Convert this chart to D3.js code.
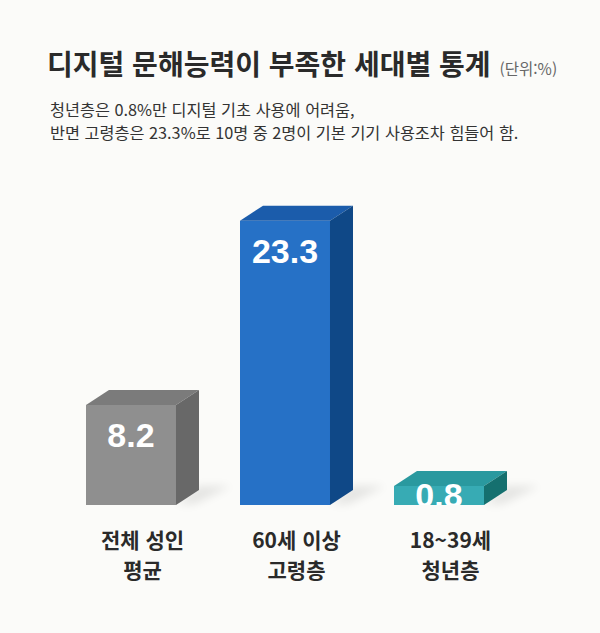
<!DOCTYPE html>
<html lang="ko">
	<head>
		<meta charset="utf-8">
		<title>디지털 문해능력이 부족한 세대별 통계</title>
		<script type="text/javascript" src="https://cdn.jsdelivr.net/npm/d3@7"></script>
		<style type="text/css">
			body { margin: 0; background: #fbfbf9; }
			svg { display: block; }
		</style>
	</head>
	<body>
		<script type="text/javascript">

			//Data
			var categories = ["전체 성인 평균", "60세 이상 고령층", "18~39세 청년층"];
			var labelLines = [["전체 성인", "평균"], ["60세 이상", "고령층"], ["18~39세", "청년층"]];
			var values = [8.2, 23.3, 0.8];
			var valueLabels = ["8.2", "23.3", "0.8"];

			var title = "디지털 문해능력이 부족한 세대별 통계";
			var unit = "(단위:%)";
			var subtitle = ["청년층은 0.8%만 디지털 기초 사용에 어려움,",
							"반면 고령층은 23.3%로 10명 중 2명이 기본 기기 사용조차 힘들어 함."];

			//Width and height
			var w = 600;
			var h = 633;
			var base = 505;
			var dx = 23, dy = 15;		//3D depth offset
			var minFront = 19;

			var frontColor = d3.scaleOrdinal().domain(categories).range(["#8f8f8f", "#2671c6", "#37abb4"]);
			var topColor   = d3.scaleOrdinal().domain(categories).range(["#7b7b7b", "#1b5cab", "#2a999f"]);
			var sideColor  = d3.scaleOrdinal().domain(categories).range(["#686868", "#0f4887", "#15706f"]);

			var xScale = d3.scaleBand()
							.domain(categories)
							.range([22, 548])
							.padding(0.4156);

			var yScale = d3.scaleLinear()
							.domain([0, 25])
							.range([base, 200]);

			var bars = categories.map(function(c, i) {
				var x0 = xScale(c);
				var top = Math.min(yScale(values[i]), base - minFront);
				return { cat: c, value: values[i], label: valueLabels[i], lines: labelLines[i],
						 x0: x0, x1: x0 + xScale.bandwidth(), top: top };
			});

			//Create SVG element
			var svg = d3.select("body")
						.append("svg")
						.attr("width", w)
						.attr("height", h);

			svg.append("rect")
			   .attr("width", w)
			   .attr("height", h)
			   .attr("fill", "#fbfbf9");

			var defs = svg.append("defs");
			defs.append("filter")
				.attr("id", "blur")
				.attr("x", "-50%").attr("y", "-50%")
				.attr("width", "200%").attr("height", "200%")
				.append("feGaussianBlur")
				.attr("stdDeviation", 5);
			defs.append("clipPath")
				.attr("id", "belowBase")
				.append("rect")
				.attr("x", 0).attr("y", 0)
				.attr("width", w).attr("height", base);

			//Title
			var t = svg.append("text")
					   .attr("x", 47)
					   .attr("y", 75)
					   .attr("font-family", "'Noto Sans CJK KR', sans-serif")
					   .attr("font-size", "28px")
					   .attr("font-weight", "bold")
					   .attr("fill", "#2a2a2a")
					   .text(title);
			t.append("tspan")
			 .attr("dx", 9)
			 .attr("font-size", "15.5px")
			 .attr("font-weight", "normal")
			 .attr("fill", "#666")
			 .text(unit);

			svg.selectAll("text.sub")
			   .data(subtitle)
			   .enter()
			   .append("text")
			   .attr("class", "sub")
			   .attr("x", 50)
			   .attr("y", function(d, i) { return 116 + i * 23; })
			   .attr("font-family", "'Noto Sans CJK KR', sans-serif")
			   .attr("font-size", "16.3px")
			   .attr("fill", "#333")
			   .text(function(d) { return d; });

			//Shadows
			svg.selectAll("polygon.shadow")
			   .data(bars)
			   .enter()
			   .append("polygon")
			   .attr("class", "shadow")
			   .attr("points", function(d) {
					return [[d.x1, base - 1], [d.x1 + dx, base - dy - 4],
							[d.x1 + dx + 32, base - dy - 4], [d.x1 + 18, base - 1]].join(" ");
			   })
			   .attr("fill", "#000")
			   .attr("opacity", 0.09)
			   .attr("filter", "url(#blur)");

			var g = svg.selectAll("g.bar")
					   .data(bars)
					   .enter()
					   .append("g")
					   .attr("class", "bar");

			//Front faces
			g.append("rect")
			 .attr("x", function(d) { return d.x0; })
			 .attr("y", function(d) { return d.top; })
			 .attr("width", xScale.bandwidth())
			 .attr("height", function(d) { return base - d.top; })
			 .attr("fill", function(d) { return frontColor(d.cat); });

			//Top faces
			g.append("polygon")
			 .attr("points", function(d) {
					return [[d.x0, d.top], [d.x0 + dx, d.top - dy],
							[d.x1 + dx, d.top - dy], [d.x1, d.top]].join(" ");
			 })
			 .attr("fill", function(d) { return topColor(d.cat); });

			//Side faces
			g.append("polygon")
			 .attr("points", function(d) {
					return [[d.x1, d.top], [d.x1 + dx, d.top - dy],
							[d.x1 + dx, base - dy], [d.x1, base]].join(" ");
			 })
			 .attr("fill", function(d) { return sideColor(d.cat); });

			//Value labels
			g.append("text")
			 .attr("clip-path", "url(#belowBase)")
			 .attr("x", function(d) { return (d.x0 + d.x1) / 2; })
			 .attr("y", function(d) { return Math.min(d.top + 42, base + 2); })
			 .attr("text-anchor", "middle")
			 .attr("font-family", "'Liberation Sans', Arial, sans-serif")
			 .attr("font-size", "34px")
			 .attr("font-weight", "bold")
			 .attr("fill", "white")
			 .text(function(d) { return d.label; });

			//Category labels
			var cl = g.append("text")
					  .attr("text-anchor", "middle")
					  .attr("font-family", "'Noto Sans CJK KR', sans-serif")
					  .attr("font-size", "21px")
					  .attr("font-weight", "bold")
					  .attr("fill", "#2a2a2a");
			cl.selectAll("tspan")
			  .data(function(d) { return d.lines.map(function(l) { return { l: l, x: (d.x0 + d.x1) / 2 + dx / 2 }; }); })
			  .enter()
			  .append("tspan")
			  .attr("x", function(d) { return d.x; })
			  .attr("y", function(d, i) { return 548 + i * 30; })
			  .text(function(d) { return d.l; });

		</script>
	</body>
</html>
